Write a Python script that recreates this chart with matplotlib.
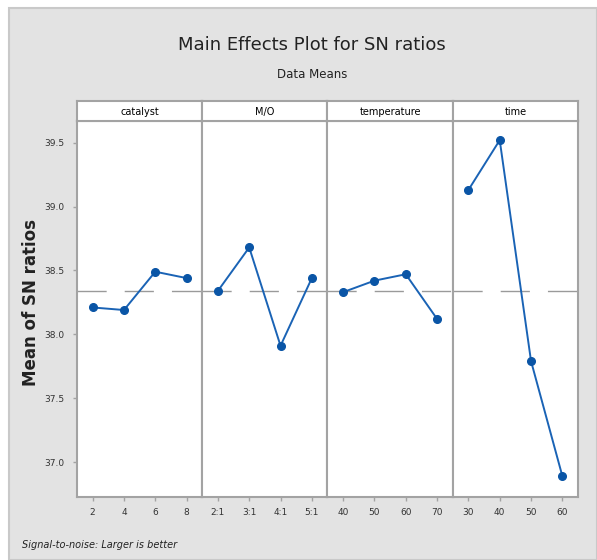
import matplotlib
matplotlib.use("Agg")
import matplotlib.pyplot as plt
import numpy as np
from matplotlib.patches import Rectangle

plt.rcParams['font.family'] = ['DejaVu Sans']

# data
factors = ['catalyst', 'M/O', 'temperature', 'time']
levels = [['2', '4', '6', '8'],
          ['2:1', '3:1', '4:1', '5:1'],
          ['40', '50', '60', '70'],
          ['30', '40', '50', '60']]
catalyst_sn = [38.21, 38.19, 38.49, 38.44]
mo_sn = [38.34, 38.68, 37.91, 38.44]
temperature_sn = [38.33, 38.42, 38.47, 38.12]
time_sn = [39.13, 39.52, 37.79, 36.89]
series = [catalyst_sn, mo_sn, temperature_sn, time_sn]
grand_mean = np.mean(np.concatenate(series))
yticks = [37.0, 37.5, 38.0, 38.5, 39.0, 39.5]

W, H = 597, 560
fig = plt.figure(figsize=(W / 100, H / 100), dpi=100)
fig.patch.set_facecolor('white')

# gray minitab-like background
bg = Rectangle((9 / W, 0), 1 - 9 / W, 1 - 8 / H, transform=fig.transFigure,
               facecolor='#e3e3e3', edgecolor='#c9c9c9', lw=1.5, zorder=-10)
fig.patches.append(bg)

spine_c = '#a3a3a3'
line_c = '#1a63b5'
mark_c = '#0a55a6'

left, right = 77, 578
top_plot, bottom_plot = 121, 497
head_top = 101
pw = (right - left) / 4

for i, (name, labs, vals) in enumerate(zip(factors, levels, series)):
    x0 = left + i * pw
    ax = fig.add_axes([x0 / W, 1 - bottom_plot / H, pw / W, (bottom_plot - top_plot) / H])
    ax.set_facecolor('white')
    xs = np.arange(len(vals))
    ax.axhline(grand_mean, color='#9a9a9a', lw=1.0, ls=(0, (21, 13)), zorder=1)
    ax.plot(xs, vals, color=line_c, lw=1.4, zorder=2)
    ax.plot(xs, vals, 'o', color=mark_c, ms=5.5, zorder=3)
    ax.set_xlim(-0.5, 3.5)
    ax.set_ylim(36.726, 39.67)
    ax.set_xticks(xs)
    ax.set_xticklabels(labs, fontsize=6.5, color='#333333')
    ax.tick_params(axis='x', length=3, width=1, color=spine_c, pad=5)
    if i == 0:
        ax.set_yticks(yticks)
        ax.set_yticklabels(['%.1f' % v for v in yticks], fontsize=6.5, color='#333333')
        ax.tick_params(axis='y', length=3, width=1, color=spine_c, pad=6)
    else:
        ax.set_yticks([])
    for s in ax.spines.values():
        s.set_color(spine_c)
        s.set_linewidth(1.5)

    hax = fig.add_axes([x0 / W, 1 - top_plot / H, pw / W, (top_plot - head_top) / H])
    hax.set_facecolor('white')
    hax.set_xticks([])
    hax.set_yticks([])
    for s in hax.spines.values():
        s.set_color(spine_c)
        s.set_linewidth(1.5)
    hax.text(0.5, 0.45, name, ha='center', va='center', fontsize=7, transform=hax.transAxes)

fig.text(312 / W, 1 - 45 / H, 'Main Effects Plot for SN ratios', ha='center', va='center',
         fontsize=13, color='#222222')
fig.text(312 / W, 1 - 75 / H, 'Data Means', ha='center', va='center',
         fontsize=8.5, color='#222222')
fig.text(31 / W, 1 - 302 / H, 'Mean of SN ratios', rotation=90, ha='center', va='center',
         fontsize=12, fontweight='bold', color='#222222')
fig.text(22 / W, 1 - 545 / H, 'Signal-to-noise: Larger is better', ha='left', va='center',
         fontsize=7, style='italic', color='#222222')

fig.savefig('out.png', dpi=100, facecolor=fig.get_facecolor())
